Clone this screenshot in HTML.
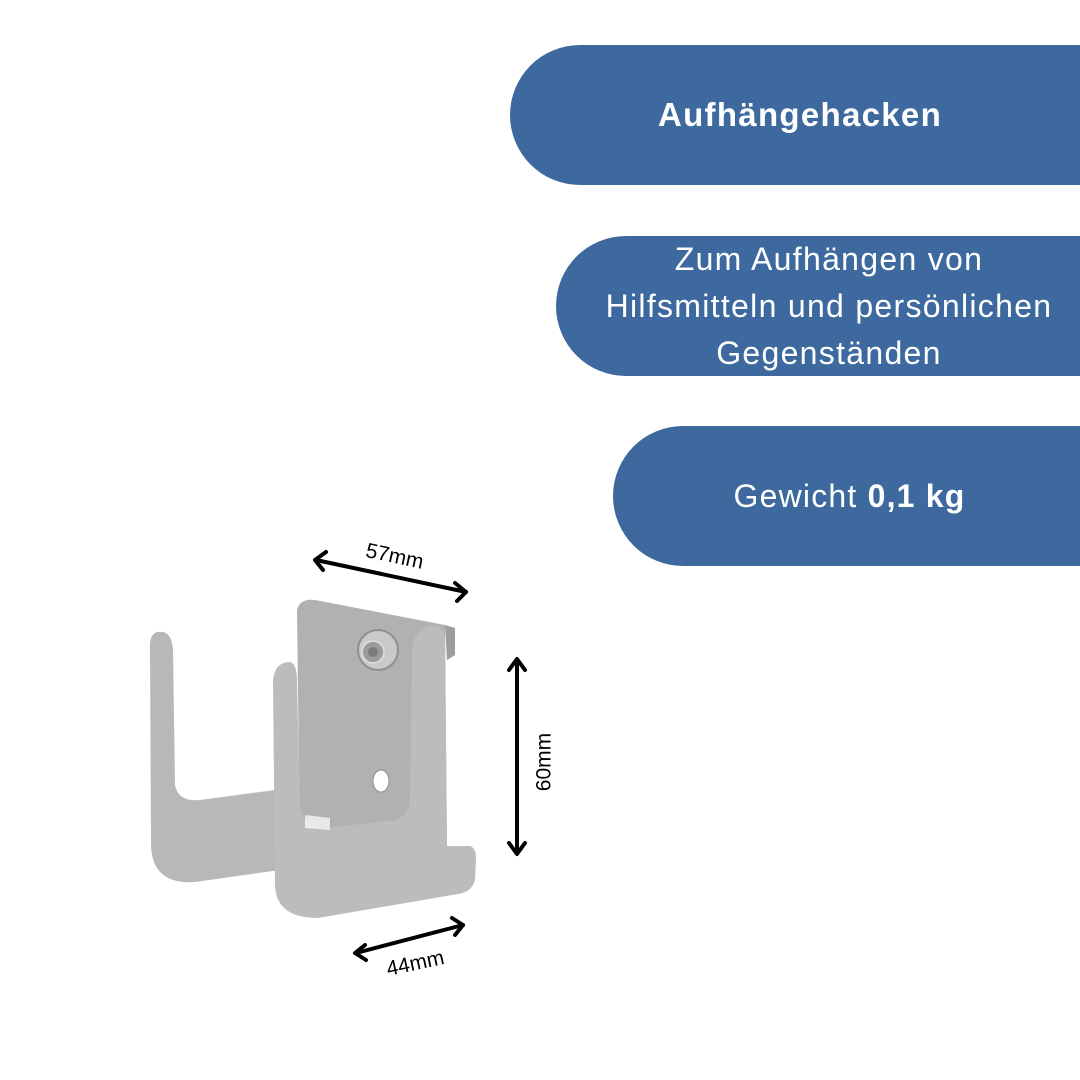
<!DOCTYPE html>
<html><head><meta charset="utf-8"><style>
html,body{margin:0;padding:0;background:#fff;}
body{width:1080px;height:1080px;position:relative;overflow:hidden;font-family:"Liberation Sans","DejaVu Sans",sans-serif;}
.pill{position:absolute;right:0;background:#3e699e;color:#fff;height:140px;border-radius:70px 0 0 70px;display:flex;align-items:center;justify-content:center;text-align:center;white-space:nowrap;}
</style></head><body>
<div class="pill" style="left:510px;top:45px;font-weight:bold;font-size:33px;letter-spacing:1.3px;padding-left:10px;">Aufhängehacken</div>
<div class="pill" style="left:556px;top:236px;font-size:32px;letter-spacing:1.3px;line-height:47px;padding-left:22px;">Zum Aufhängen von<br>Hilfsmitteln und persönlichen<br>Gegenständen</div>
<div class="pill" style="left:613px;top:426px;font-size:32px;letter-spacing:1.2px;padding-left:6px;">Gewicht&nbsp;<b>0,1 kg</b></div>
<svg width="1080" height="1080" style="position:absolute;left:0;top:0">
<path d="M150,645 Q150,630 163,632 Q172,634 173,650 L175,785 Q178,802 200,800 L275,790 L280,870 L195,882 Q152,885 151,845 Z" fill="#b7b8ba"/>
<path d="M297,610 Q300,598 315,600 L445,625 L447,850 L300,850 Z" fill="#b0b1b3"/>
<path d="M445,625 L455,628 L455,655 L447,660 Z" fill="#9c9d9f"/>
<path d="M273,680 Q275,662 290,662 Q297,664 297,680 L300,808 Q305,828 325,828 L395,820 Q410,815 410,798 L412,650 Q414,628 432,626 Q445,626 445,640 L447,846 L470,846 Q476,848 476,858 L475,880 Q472,892 458,894 L318,918 Q276,918 275,885 Z" fill="#bbbcbe"/>
<path d="M305,815 L330,818 L330,830 L305,828 Z" fill="#fff" opacity="0.7"/>
<circle cx="378" cy="650" r="20" fill="#c8c9cb" stroke="#8e8f91" stroke-width="2"/>
<circle cx="373" cy="652" r="11" fill="#9a9b9d" stroke="#d8d9db" stroke-width="2"/>
<circle cx="373" cy="652" r="5" fill="#7a7b7d"/>
<ellipse cx="381" cy="781" rx="8" ry="11" fill="#fff" stroke="#8e8f91" stroke-width="1"/>
<g stroke="#000" stroke-width="4" fill="none" stroke-linecap="round" stroke-linejoin="round">
<line x1="316" y1="560" x2="466" y2="592"/>
<polyline points="326,552 315,560 323,570"/>
<polyline points="455,583 466,592 457,601"/>
<line x1="517" y1="660" x2="517" y2="853"/>
<polyline points="509,670 517,659 525,670"/>
<polyline points="509,843 517,854 525,843"/>
<line x1="356" y1="953" x2="463" y2="925"/>
<polyline points="365,945 355,953 366,960"/>
<polyline points="452,918 463,925 455,935"/>
</g>
<text x="395" y="563" font-size="21" transform="rotate(12 395 555)" text-anchor="middle" font-family="Liberation Sans, sans-serif">57mm</text>
<text x="415" y="970" font-size="21" transform="rotate(-12 415 962)" text-anchor="middle" font-family="Liberation Sans, sans-serif">44mm</text>
<text x="545" y="762" font-size="21" transform="rotate(-90 545 762)" text-anchor="middle" dominant-baseline="middle" font-family="Liberation Sans, sans-serif">60mm</text>
</svg>
</body></html>
